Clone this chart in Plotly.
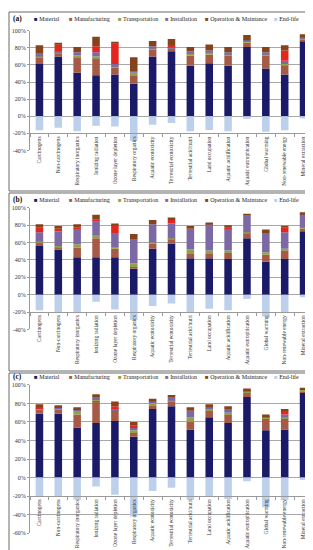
import plotly.graph_objects as go

categories = ["Carcinogens", "Non-carcinogens", "Respiratory inorganics", "Ionizing radiation",
              "Ozone layer depletion", "Respiratory organics", "Aquatic ecotoxicity",
              "Terrestrial ecotoxicity", "Terrestrial acid/nutri", "Land occupation",
              "Aquatic acidification", "Aquatic eutrophication", "Global warming",
              "Non-renewable energy", "Mineral extraction"]

legend_names = ["Material", "Manufacturing", "Transportation", "Installation",
                "Operation & Maintance", "End-life"]

# panel (a)
material_a = [61, 70, 51, 48, 49, 38, 70, 76, 59, 62, 59, 81, 56, 49, 88]
manufacturing_a = [8, 4, 18, 20, 8, 10, 8, 3, 12, 10, 12, 5, 15, 11, 2]
transport_a = [1, 0.5, 2, 2, 1, 3, 2, 0.5, 3, 3, 2, 2, 2, 1, 1]
installation_a = [3, 1.5, 4, 5, 3, 2, 2, 1, 2, 2, 2, 1, 2, 4, 1]
other_a = [0, 8, 0, 7, 24, 0, 0, 3, 0, 0, 0, 0, 0, 12, 0]
om_a = [10, 1, 6, 11, 2, 16, 6, 7, 5, 7, 6, 6, 6, 6, 4]
endlife_a = [-16.5, -13.5, -17.5, -11, -12, -29, -10, -8, -17.5, -16, -17.5, -3, -18, -16.5, -2.5]

# panel (b)
material_b = [56, 52, 43, 43, 43, 30, 53, 59, 42, 42, 41, 65, 38, 41, 73]
manufacturing_b = [4, 3, 11, 22, 10, 2, 6, 5, 5, 5, 7, 6, 8, 10, 3]
transport_b = [1, 1, 4, 3, 2, 4, 1, 1, 5, 4, 3, 1, 3, 2, 1]
installation_b = [11, 17, 17, 16, 16, 28, 21, 17, 24, 30, 24, 19, 22, 19, 16]
other_b = [5, 3, 2, 3, 9, 0, 0, 4, 0, 0, 2, 0, 0, 5, 0]
om_b = [4, 3, 4, 5, 2, 6, 5, 3, 3, 2, 3, 2, 4, 2, 2]
endlife_b = [-18, -20, -20, -8, -17, -29, -13, -10, -20, -16, -18, -5, -25, -20, -3]

# panel (c)
material_c = [69, 69, 54, 59, 61, 44, 74, 77, 52, 65, 59, 87, 51, 52, 92]
manufacturing_c = [5, 5, 14, 24, 11, 5, 4, 5, 8, 8, 9, 5, 13, 12, 1]
transport_c = [1, 1, 3, 1, 1, 2, 3, 1, 5, 2, 2, 1, 1, 1, 2]
installation_c = [0, 1, 3, 2, 2, 3, 1, 3, 7, 1, 4, 1, 1, 3, 0.5]
other_c = [1, 0, 0, 0, 2, 2, 0, 0, 0, 0, 0, 0, 0, 4, 0]
om_c = [3, 2, 2, 4, 5, 4, 3, 3, 4, 3, 3, 2, 2, 2, 1.5]
endlife_c = [-20, -21, -24, -9.5, -18.5, -42, -14.5, -11, -24, -21, -23, -4, -32, -24.5, -2.5]

y_ticks = [100, 80, 60, 40, 20, 0, -20, -40, -60]
y_tick_labels = ["100%", "80%", "60%", "40%", "20%", "0%", "-20%", "-40%", "-60%"]

colors = {"Material": "#1a1a68", "Manufacturing": "#a65a46", "Transportation": "#8fa24a",
          "Installation": "#7d68a6", "Other": "#e3261f", "Operation & Maintance": "#84431a",
          "End-life": "#bcd0ec"}

W, H = 313, 550
def py(p):
    return 1 - p / H

FONT = "Liberation Serif"

panels = [
    dict(tag="(a)", sfx="", data=[material_a, manufacturing_a, transport_a, installation_a, other_a, om_a, endlife_a],
         top=20, bottom=141, rng=(-40, 100), box=(1, 1, 311, 182), legy=8),
    dict(tag="(b)", sfx="2", data=[material_b, manufacturing_b, transport_b, installation_b, other_b, om_b, endlife_b],
         top=199, bottom=322, rng=(-40, 100), box=(1, 184, 311, 364), legy=191),
    dict(tag="(c)", sfx="3", data=[material_c, manufacturing_c, transport_c, installation_c, other_c, om_c, endlife_c],
         top=378, bottom=528, rng=(-60, 100), box=(1, 366, 311, 548), legy=370),
]
series_order = ["Material", "Manufacturing", "Transportation", "Installation", "Other",
                "Operation & Maintance", "End-life"]

fig = go.Figure()
layout = dict(width=W, height=H, margin=dict(l=0, r=0, t=0, b=0), paper_bgcolor="white",
              plot_bgcolor="white", barmode="relative", bargap=0.6, showlegend=False)
shapes, annotations = [], []
xd = [22 / W, 305 / W]

for p in panels:
    sfx = p["sfx"]
    for name, vals in zip(series_order, p["data"]):
        fig.add_trace(go.Bar(x=categories, y=vals, name=name, marker_color=colors[name],
                             marker_line_width=0, xaxis="x" + sfx, yaxis="y" + sfx,
                             showlegend=False))
    lo, hi = p["rng"]
    pxper = (p["bottom"] - p["top"]) / (hi - lo)
    axis_px = p["top"] + (hi - (-20)) * pxper
    ticks = [t for t in y_ticks if lo <= t <= hi]
    labels = [y_tick_labels[y_ticks.index(t)] for t in ticks]
    layout["xaxis" + sfx] = dict(domain=xd, anchor="free", position=py(axis_px), type="category",
                                 showline=True, linecolor="#9a9a9a", linewidth=1, ticks="outside",
                                 tickson="boundaries", ticklen=3, tickcolor="#9a9a9a",
                                 tickangle=-90, tickfont=dict(family=FONT, size=5.4, color="#333"),
                                 showgrid=False, fixedrange=True)
    layout["yaxis" + sfx] = dict(domain=[py(p["bottom"]), py(p["top"])], anchor="x" + sfx,
                                 range=[lo, hi], tickvals=ticks, ticktext=labels,
                                 showgrid=True, gridcolor="#a8a8a8", gridwidth=1,
                                 zeroline=True, zerolinecolor="#a8a8a8", zerolinewidth=1,
                                 showline=True, linecolor="#9a9a9a", linewidth=1,
                                 ticks="outside", ticklen=2, tickcolor="#9a9a9a",
                                 tickfont=dict(family=FONT, size=6, color="#333"), fixedrange=True)
    x0, y0, x1, y1 = p["box"]
    shapes.append(dict(type="rect", xref="paper", yref="paper", x0=x0 / W, x1=x1 / W,
                       y0=py(y1), y1=py(y0), line=dict(color="#6a6a6a", width=1)))
    annotations.append(dict(xref="paper", yref="paper", x=3 / W, y=py(p["legy"]), xanchor="left",
                            yanchor="middle", showarrow=False, text="<b>" + p["tag"] + "</b>",
                            font=dict(family=FONT, size=7.5, color="#111")))
    leg_x = [24, 59, 108, 155, 195, 264]
    for lx, nm in zip(leg_x, legend_names):
        annotations.append(dict(xref="paper", yref="paper", x=lx / W, y=py(p["legy"]), xanchor="left",
                                yanchor="middle", showarrow=False,
                                text='<span style="color:%s">■</span> %s' % (colors[nm], nm),
                                font=dict(family=FONT, size=6, color="#222")))

layout["shapes"] = shapes
layout["annotations"] = annotations
fig.update_layout(**layout)
fig.write_html("out.html")
